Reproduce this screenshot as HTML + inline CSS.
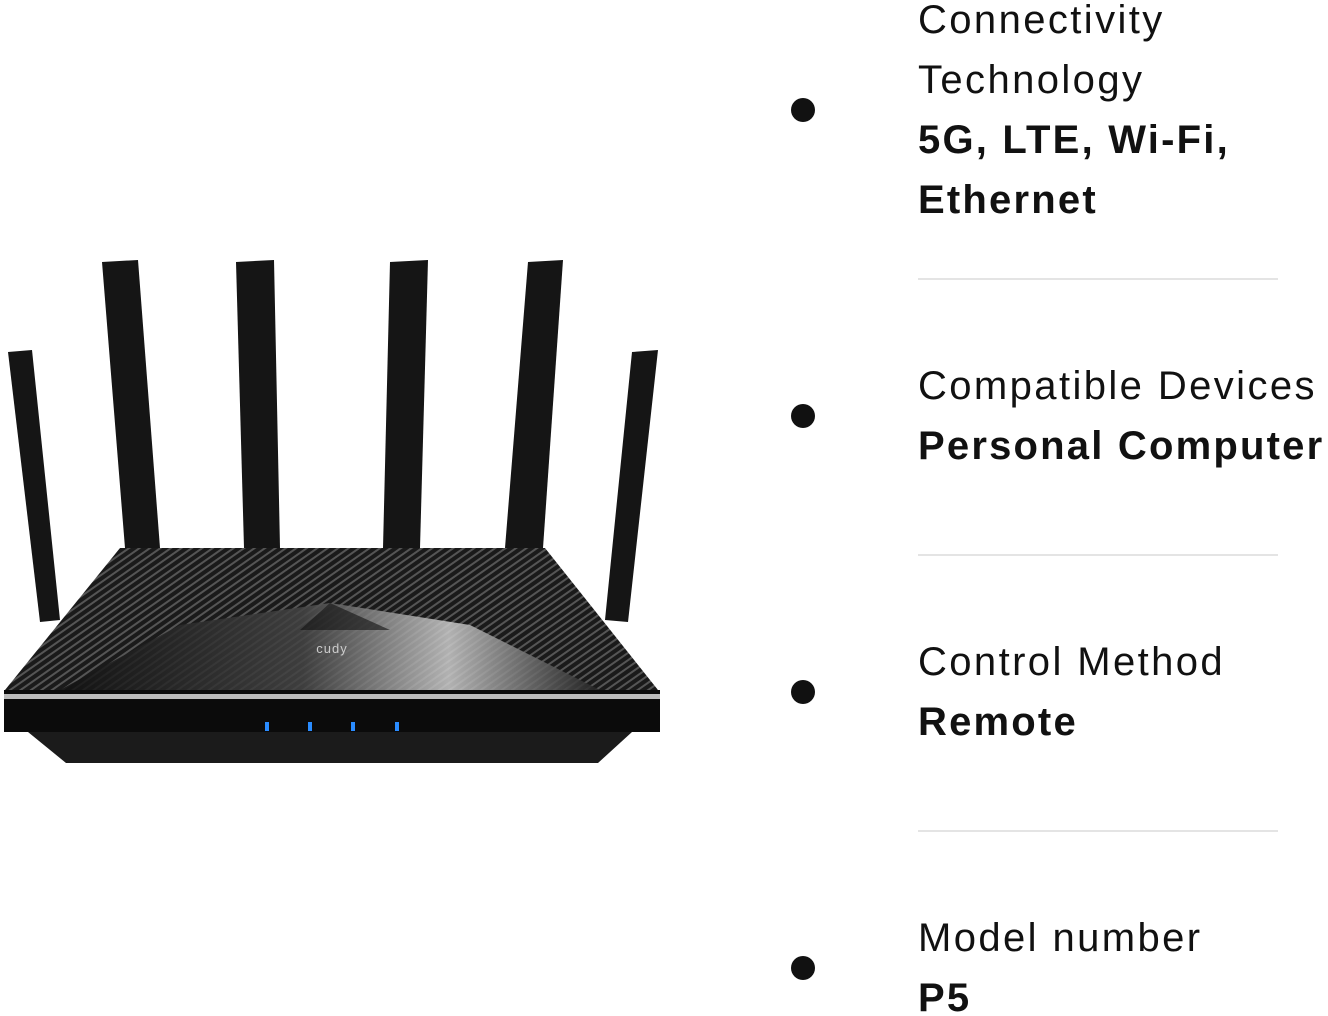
<!DOCTYPE html>
<html><head><meta charset="utf-8"><style>
html,body{margin:0;padding:0;background:#fff;width:1328px;height:1016px;overflow:hidden;position:relative;font-family:"Liberation Sans",sans-serif;color:#111}
.t{position:absolute;left:918px;font-size:40px;line-height:60px;white-space:nowrap;letter-spacing:2.4px}
.b{font-weight:bold;letter-spacing:2.2px}
.dot{position:absolute;left:791px;width:24px;height:24px;border-radius:50%;background:#111}
.hr{position:absolute;left:918px;width:360px;height:2px;background:#e4e4e4}
</style></head><body>
<svg width="670" height="780" style="position:absolute;left:0;top:0">
<defs>
<linearGradient id="g2" x1="0" y1="0" x2="1" y2="0"><stop offset="0" stop-color="#111"/><stop offset=".45" stop-color="#444"/><stop offset=".72" stop-color="#ccc"/><stop offset="1" stop-color="#222"/></linearGradient>
<pattern id="st" width="6" height="6" patternUnits="userSpaceOnUse" patternTransform="rotate(-35)"><rect width="6" height="6" fill="#1a1a1a"/><rect width="6" height="2" fill="#555"/></pattern>
</defs>
<g fill="#151515">
<polygon points="8,352 32,350 60,620 40,622"/>
<polygon points="102,262 138,260 160,548 125,548"/>
<polygon points="236,262 274,260 280,548 244,548"/>
<polygon points="390,262 428,260 420,548 383,548"/>
<polygon points="528,262 563,260 543,548 505,548"/>
<polygon points="632,352 658,350 628,622 605,620"/>
</g>
<polygon points="120,548 545,548 658,690 5,690" fill="url(#st)"/>
<polygon points="330,603 470,625 600,690 60,690 180,625" fill="url(#g2)" opacity=".85"/>
<polygon points="330,603 390,630 300,630" fill="#111" opacity=".6"/>
<text x="332" y="653" font-size="13" fill="#ccc" text-anchor="middle" font-family="Liberation Sans" letter-spacing="1">cudy</text>
<rect x="4" y="690" width="656" height="42" fill="#0b0b0b"/>
<rect x="4" y="694" width="656" height="5" fill="#bbb"/>
<polygon points="28,732 632,732 598,763 66,763" fill="#1b1b1b"/>
<g fill="#2a8cff"><rect x="265" y="722" width="4" height="9"/><rect x="308" y="722" width="4" height="9"/><rect x="351" y="722" width="4" height="9"/><rect x="395" y="722" width="4" height="9"/></g>
</svg>
<div class="dot" style="top:98px"></div>
<div class="dot" style="top:404px"></div>
<div class="dot" style="top:680px"></div>
<div class="dot" style="top:956px"></div>
<div class="t" style="top:-10px">Connectivity<br>Technology<br><span class="b">5G, LTE, Wi-Fi,<br>Ethernet</span></div>
<div class="hr" style="top:278px"></div>
<div class="t" style="top:356px">Compatible Devices<br><span class="b">Personal Computer</span></div>
<div class="hr" style="top:554px"></div>
<div class="t" style="top:632px">Control Method<br><span class="b">Remote</span></div>
<div class="hr" style="top:830px"></div>
<div class="t" style="top:908px">Model number<br><span class="b">P5</span></div>
</body></html>
